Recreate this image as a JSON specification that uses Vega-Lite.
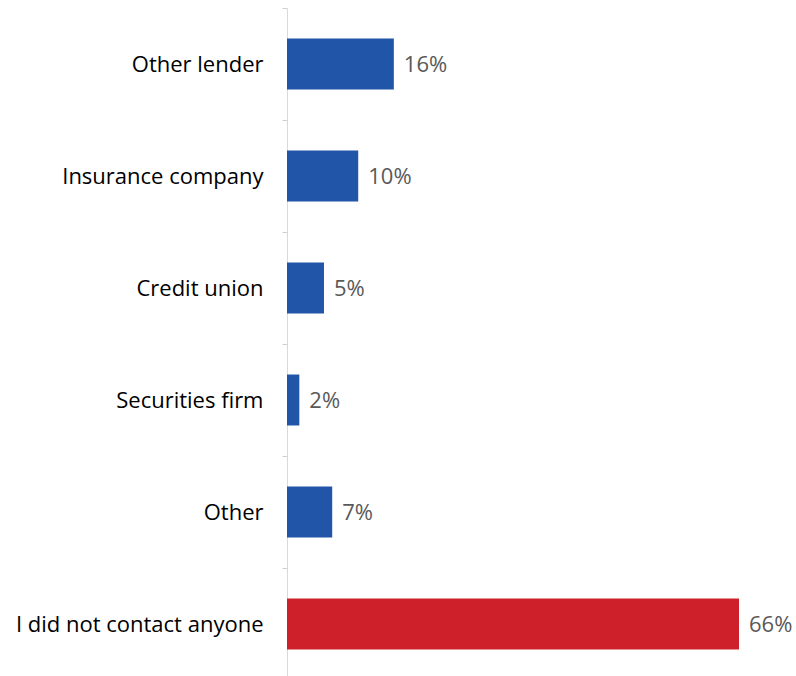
{
  "$schema": "https://vega.github.io/schema/vega-lite/v6.json",
  "autosize": {"type": "none"},
  "padding": {"left": 287, "top": 8, "right": 57, "bottom": 0},
  "width": 452,
  "height": 672,
  "background": "white",
  "config": {"view": {"stroke": null}, "font": "Open Sans"},
  "data": {
    "values": [
      {"category": "Other lender", "value": 0.156, "group": "other"},
      {"category": "Insurance company", "value": 0.104, "group": "other"},
      {"category": "Credit union", "value": 0.054, "group": "other"},
      {"category": "Securities firm", "value": 0.018, "group": "other"},
      {"category": "Other", "value": 0.066, "group": "other"},
      {"category": "I did not contact anyone", "value": 0.66, "group": "none"}
    ]
  },
  "encoding": {
    "y": {
      "field": "category",
      "type": "nominal",
      "sort": null,
      "scale": {"paddingInner": 0, "paddingOuter": 0},
      "axis": {
        "title": null,
        "ticks": true,
        "tickBand": "extent",
        "domainColor": "#D9D9D9",
        "tickColor": "#CFCFCF",
        "tickWidth": 1,
        "tickSize": 5,
        "labelPadding": 19,
        "labelOffset": 0.5,
        "labelFont": "Open Sans",
        "labelFontSize": 22,
        "labelColor": "#000000",
        "labelLimit": 400
      }
    },
    "x": {
      "field": "value",
      "type": "quantitative",
      "scale": {"domain": [0, 0.66], "nice": false},
      "axis": null
    }
  },
  "layer": [
    {
      "mark": {"type": "bar", "height": {"band": 0.455}},
      "encoding": {
        "color": {
          "field": "group",
          "type": "nominal",
          "scale": {"domain": ["other", "none"], "range": ["#2155A8", "#CE202B"]},
          "legend": null
        }
      }
    },
    {
      "mark": {"type": "text", "align": "left", "baseline": "middle", "dx": 10, "dy": 1, "font": "Open Sans", "fontSize": 22, "color": "#595959"},
      "encoding": {
        "text": {"field": "value", "type": "quantitative", "format": ".0%"}
      }
    }
  ]
}
